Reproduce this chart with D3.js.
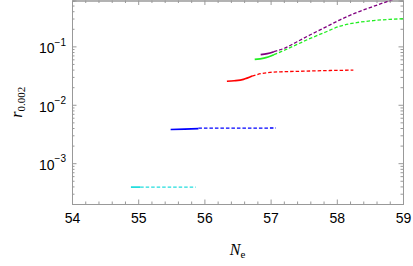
<!DOCTYPE html>
<html>
<head>
<meta charset="utf-8">
<script src="https://cdn.jsdelivr.net/npm/d3@7"></script>
<style>
  body { margin: 0; background: #fff; }
  svg { display: block; }
</style>
</head>
<body>
<script>
// data: [Ne, r]
const xTicks = [54, 55, 56, 57, 58, 59];
const yTicks = [1e-3, 1e-2, 1e-1];
const yTickExp = ["-3", "-2", "-1"];

const cyanSolid = [[54.89, 3.9e-4], [55.03, 3.9e-4]];
const cyanDashed = [[55.03, 3.9e-4], [55.87, 3.9e-4]];
const blueSolid = [[55.49, 3.77e-3], [55.7, 3.83e-3], [55.91, 3.92e-3]];
const blueDashed = [[55.91, 3.98e-3], [57.08, 4.0e-3]];
const redSolid = [[56.34, 0.0253], [56.45, 0.0258], [56.59, 0.0272], [56.72, 0.031]];
const redDashed = [[56.72, 0.031], [56.85, 0.034], [56.99, 0.0358], [57.2, 0.0368], [57.5, 0.0376], [57.9, 0.0386], [58.25, 0.0392]];
const greenSolid = [[56.76, 0.06], [56.9, 0.063], [57.05, 0.072]];
const greenDashed = [[57.05, 0.072], [57.2, 0.085], [57.4, 0.108], [57.6, 0.137], [57.8, 0.17], [58.05, 0.222], [58.3, 0.255], [58.55, 0.276], [58.8, 0.29], [59.0, 0.297]];
const purpleSolid = [[56.85, 0.072], [56.95, 0.075], [57.05, 0.081]];
const purpleDashed = [[57.05, 0.081], [57.2, 0.092], [57.4, 0.12], [57.6, 0.158], [57.8, 0.205], [58.05, 0.285], [58.3, 0.38], [58.5, 0.46], [58.75, 0.58], [58.9, 0.66]];

const series = [
  { color: "#22dddd", solid: cyanSolid, dashed: cyanDashed },
  { color: "#0000ff", solid: blueSolid, dashed: blueDashed },
  { color: "#ff0000", solid: redSolid, dashed: redDashed },
  { color: "#22ee22", solid: greenSolid, dashed: greenDashed },
  { color: "#800080", solid: purpleSolid, dashed: purpleDashed },
];

const width = 413, height = 266;
const margin = { left: 72, right: 10, top: 0.5, bottom: 62 };
const frame = "#999999";

const x = d3.scaleLinear([54, 59], [margin.left, width - margin.right]);
const y = d3.scaleLog([2.0e-4, 0.61], [height - margin.bottom, margin.top]);

const svg = d3.select("body").append("svg")
  .attr("width", width)
  .attr("height", height)
  .attr("viewBox", `0 0 ${width} ${height}`);

svg.append("clipPath").attr("id", "clip")
  .append("rect")
  .attr("x", x.range()[0]).attr("y", y.range()[1])
  .attr("width", x.range()[1] - x.range()[0])
  .attr("height", y.range()[0] - y.range()[1]);

const xMinor = d3.range(54, 59.001, 0.2).filter(v => Math.abs(v - Math.round(v)) > 1e-6);
const yMinor = y.ticks().filter(v => !yTicks.some(t => Math.abs(t - v) / t < 1e-6));

function styleAxis(g) {
  g.select(".domain").attr("stroke", frame);
  g.selectAll(".tick line").attr("stroke", frame);
  g.selectAll(".tick text").attr("fill", "#000");
}

// bottom
svg.append("g")
  .attr("transform", `translate(0,${y.range()[0]})`)
  .call(d3.axisBottom(x).tickValues(xTicks).tickSize(-4.5).tickPadding(9).tickFormat(d3.format("d")))
  .call(styleAxis)
  .call(g => g.selectAll(".tick text").attr("font-family", "Liberation Sans, Arial, sans-serif").attr("font-size", 14));
svg.append("g")
  .attr("transform", `translate(0,${y.range()[0]})`)
  .call(d3.axisBottom(x).tickValues(xMinor).tickSize(-2.5).tickFormat(""))
  .call(styleAxis);

// top
svg.append("g")
  .attr("transform", `translate(0,${y.range()[1]})`)
  .call(d3.axisTop(x).tickValues(xTicks).tickSize(-4.5).tickFormat(""))
  .call(styleAxis);
svg.append("g")
  .attr("transform", `translate(0,${y.range()[1]})`)
  .call(d3.axisTop(x).tickValues(xMinor).tickSize(-2.5).tickFormat(""))
  .call(styleAxis);

// left
svg.append("g")
  .attr("transform", `translate(${x.range()[0]},0)`)
  .call(d3.axisLeft(y).tickValues(yTicks).tickSize(-4.5).tickPadding(6).tickFormat(() => ""))
  .call(styleAxis)
  .call(g => g.selectAll(".tick text")
    .attr("font-family", "Liberation Sans, Arial, sans-serif")
    .attr("font-size", 14)
    .attr("dy", "0.45em")
    .each(function (d, i) {
      const t = d3.select(this);
      t.append("tspan").text("10");
      t.append("tspan").attr("font-size", 10).attr("dy", "-0.75em").text("\u2212" + yTickExp[i].slice(1));
    }));
svg.append("g")
  .attr("transform", `translate(${x.range()[0]},0)`)
  .call(d3.axisLeft(y).tickValues(yMinor).tickSize(-2.5).tickFormat(""))
  .call(styleAxis);

// right
svg.append("g")
  .attr("transform", `translate(${x.range()[1]},0)`)
  .call(d3.axisRight(y).tickValues(yTicks).tickSize(-4.5).tickFormat(""))
  .call(styleAxis);
svg.append("g")
  .attr("transform", `translate(${x.range()[1]},0)`)
  .call(d3.axisRight(y).tickValues(yMinor).tickSize(-2.5).tickFormat(""))
  .call(styleAxis);

// curves
const line = d3.line().curve(d3.curveMonotoneX).x(d => x(d[0])).y(d => y(d[1]));
const curves = svg.append("g").attr("clip-path", "url(#clip)");
series.forEach(s => {
  curves.append("path")
    .attr("fill", "none")
    .attr("stroke", s.color)
    .attr("stroke-width", 1.3)
    .attr("stroke-dasharray", "3.5,2")
    .attr("d", line(s.dashed));
  curves.append("path")
    .attr("fill", "none")
    .attr("stroke", s.color)
    .attr("stroke-width", 1.7)
    .attr("d", line(s.solid));
});

// axis titles
svg.append("text")
  .attr("x", (x.range()[0] + x.range()[1]) / 2)
  .attr("y", 255)
  .attr("text-anchor", "middle")
  .attr("font-family", "Liberation Serif, Times New Roman, serif")
  .attr("font-size", 16)
  .call(t => {
    t.append("tspan").attr("font-style", "italic").text("N");
    t.append("tspan").attr("font-size", 11).attr("dy", "0.25em").text("e");
  });

svg.append("text")
  .attr("transform", `translate(22,${(y.range()[0] + y.range()[1]) / 2}) rotate(-90)`)
  .attr("text-anchor", "middle")
  .attr("font-family", "Liberation Serif, Times New Roman, serif")
  .attr("font-size", 16)
  .call(t => {
    t.append("tspan").attr("font-style", "italic").text("r");
    t.append("tspan").attr("font-size", 11).attr("dy", "0.25em").text("0.002");
  });
</script>
</body>
</html>
